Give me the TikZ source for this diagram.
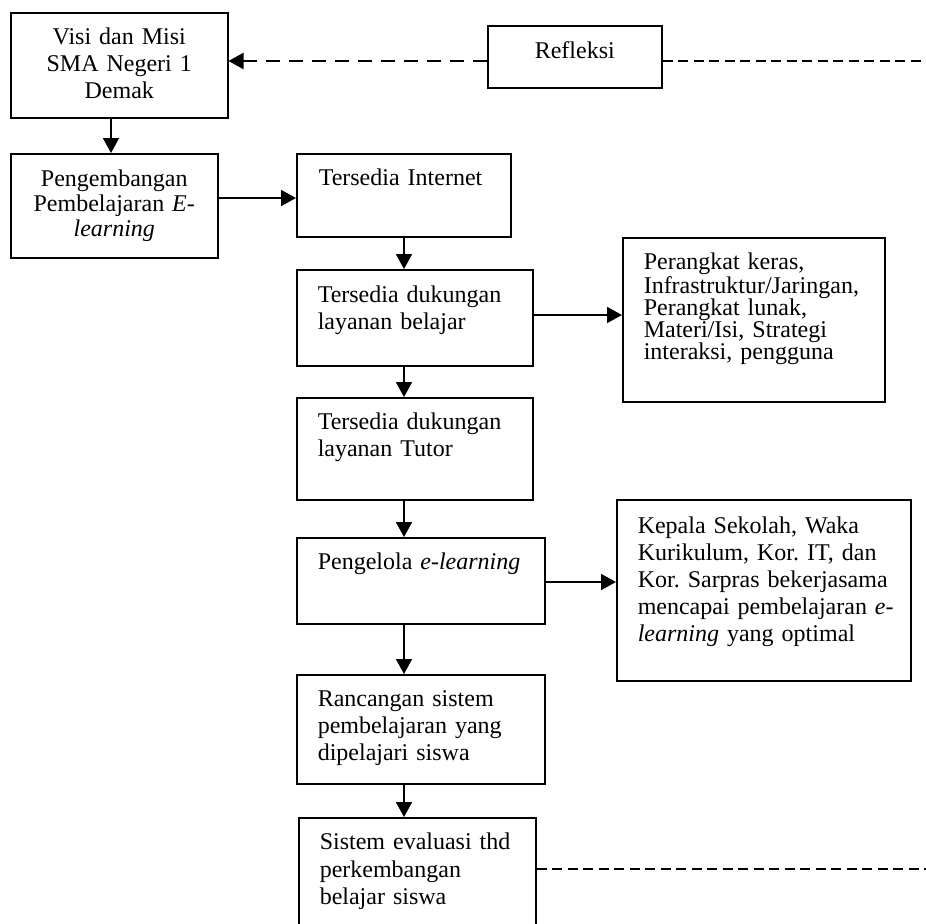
\documentclass[tikz,border=0pt]{standalone}
\usepackage{fontspec}
\setmainfont{Liberation Serif}
\usetikzlibrary{arrows.meta}
\newcommand{\ltext}[2][10.5pt]{\leftskip=#1\rightskip=0pt plus 1fil\parfillskip=0pt plus 1fil\relax #2\par}
\begin{document}
\begin{tikzpicture}[x=0.5pt,y=-0.5pt,
  box/.style={draw, line width=0.75pt, rectangle, inner sep=0pt, anchor=north west, font=\fontsize{12}{13.5}\selectfont\frenchspacing},
  cbox/.style={box, align=center},
  lbox/.style={box},
  arr/.style={line width=0.9pt, -{Triangle[length=7.5pt,width=8pt]}},
  dthick/.style={line width=1.1pt, dash pattern=on 7pt off 4.5pt},
  dthin/.style={line width=0.6pt, dash pattern=on 5pt off 2.75pt}]
\useasboundingbox (0,0) rectangle (926,923);
\clip (0,0) rectangle (926,923);

\node[cbox, text width=108.5pt, text height=16pt, text depth=36.5pt] (visi) at (10,12) {Visi dan Misi\\SMA Negeri 1\\Demak};
\node[cbox, text width=87pt, text height=16.5pt, text depth=14.5pt] (refl) at (487,25) {Refleksi};
\node[cbox, text width=103.5pt, text height=16.5pt, text depth=35.5pt, font=\fontsize{12}{12.5}\selectfont] (peng) at (10,153) {Pengembangan\\Pembelajaran \textit{E-}\\\textit{learning}};
\node[lbox, text width=107pt, text height=16pt, text depth=25.5pt] (inet) at (296,153) {\ltext[11pt]{Tersedia Internet}};
\node[lbox, text width=118pt, text height=16.5pt, text depth=31.5pt] (bel) at (296,269) {\ltext{Tersedia dukungan\\layanan belajar}};
\node[lbox, text width=131pt, text height=16pt, text depth=66pt, font=\fontsize{12}{11}\selectfont\frenchspacing] (perk) at (622,237) {\ltext{Perangkat keras,\\Infrastruktur/Jaringan,\\Perangkat lunak,\\Materi/Isi, Strategi\\interaksi, pengguna}};
\node[lbox, text width=118pt, text height=16pt, text depth=35pt] (tutor) at (296,397) {\ltext{Tersedia dukungan\\layanan Tutor}};
\node[lbox, text width=124pt, text height=16pt, text depth=27pt] (peng2) at (296,537) {\ltext{Pengelola \textit{e-learning}}};
\node[lbox, text width=147pt, text height=17pt, text depth=73.5pt] (kep) at (616,499) {\ltext{Kepala Sekolah, Waka\\Kurikulum, Kor. IT, dan\\Kor. Sarpras bekerjasama\\mencapai pembelajaran \textit{e-}\\\textit{learning} yang optimal}};
\node[lbox, text width=124pt, text height=16pt, text depth=38.5pt] (ranc) at (296,674) {\ltext{Rancangan sistem\\pembelajaran yang\\dipelajari siswa}};
\node[lbox, text width=118.5pt, text height=16pt, text depth=48pt, font=\fontsize{12}{13.8}\selectfont\frenchspacing] (sist) at (298,817) {\ltext{Sistem evaluasi thd\\perkembangan\\belajar siswa}};

\coordinate (xa) at (111,0);
\coordinate (xm) at (404,0);
\coordinate (yr) at (0,61);
\coordinate (yp) at (0,198);
\coordinate (yb) at (0,315);
\coordinate (yk) at (0,582);
\coordinate (ys) at (0,869);
\coordinate (e1) at (926,61);
\coordinate (e2) at (926,869);

\draw[arr, dthick] (refl.west |- yr) -- (visi.east |- yr);
\draw[dthin] (refl.east |- yr) -- (e1);
\draw[arr] (visi.south -| xa) -- (peng.north -| xa);
\draw[arr] (peng.east |- yp) -- (inet.west |- yp);
\draw[arr] (inet.south -| xm) -- (bel.north -| xm);
\draw[arr] (bel.east |- yb) -- (perk.west |- yb);
\draw[arr] (bel.south -| xm) -- (tutor.north -| xm);
\draw[arr] (tutor.south -| xm) -- (peng2.north -| xm);
\draw[arr] (peng2.east |- yk) -- (kep.west |- yk);
\draw[arr] (peng2.south -| xm) -- (ranc.north -| xm);
\draw[arr] (ranc.south -| xm) -- (sist.north -| xm);
\draw[dthin] (sist.east |- ys) -- (e2);
\end{tikzpicture}
\end{document}
